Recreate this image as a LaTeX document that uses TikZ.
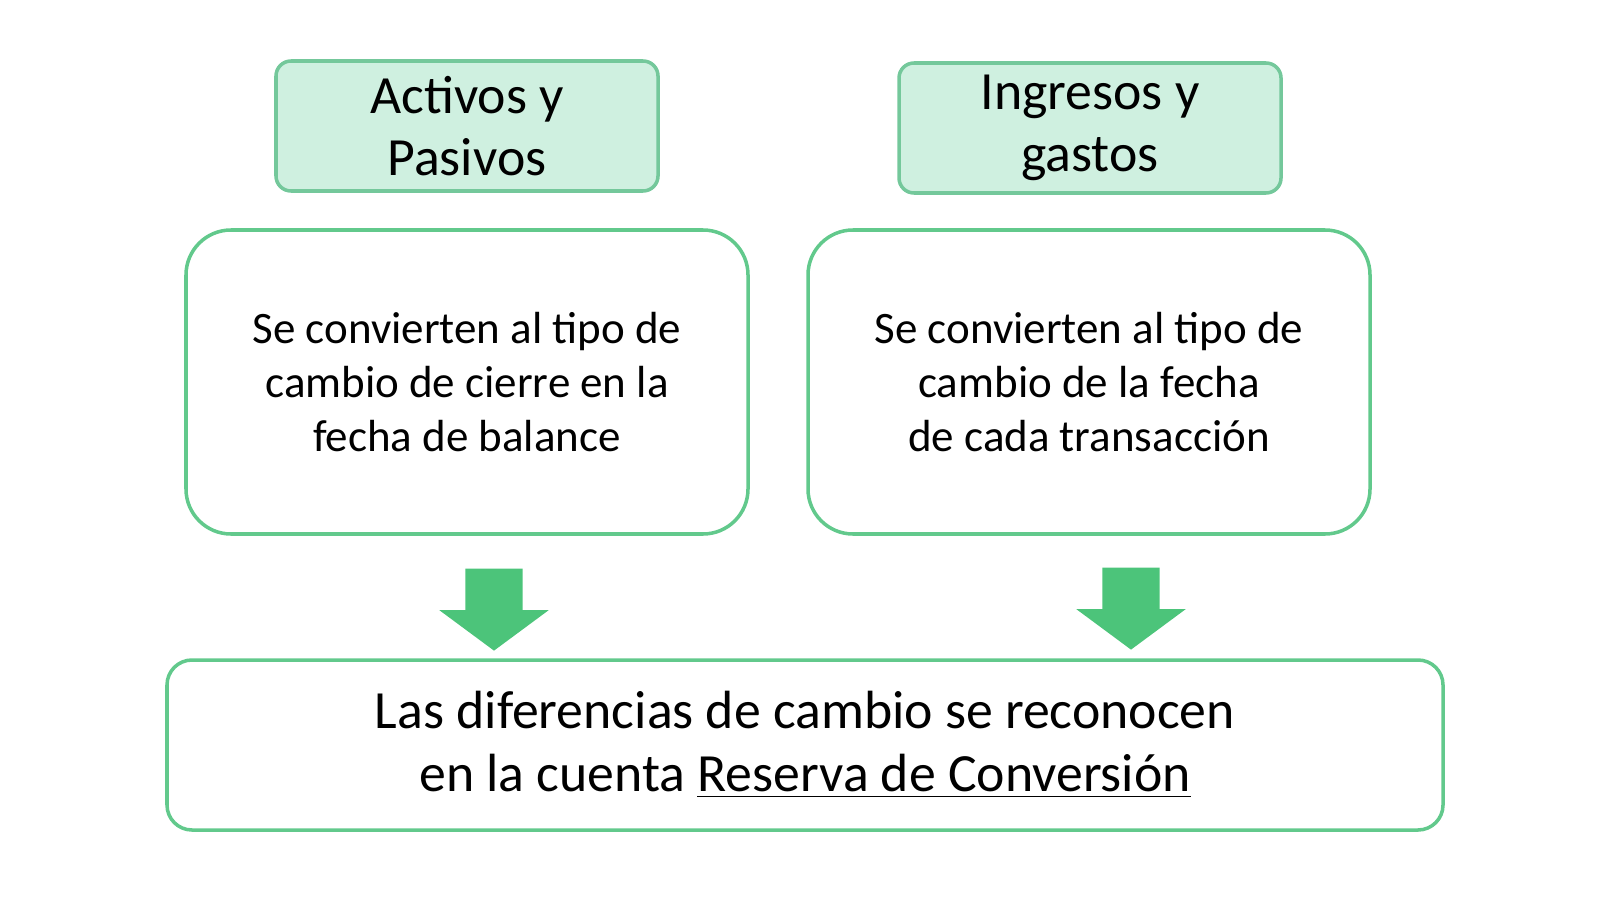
\documentclass[tikz,border=0pt]{standalone}
\usepackage{fontspec}
\setmainfont{Carlito}
\usepackage{tikz}
\usetikzlibrary{positioning,shapes.arrows}
\definecolor{headfill}{HTML}{CFF0E0}
\definecolor{headline}{HTML}{74C89B}
\definecolor{boxline}{HTML}{62C98C}
\definecolor{arrowfill}{HTML}{4CC47A}
\tikzstyle{head} = [rectangle, rounded corners=0.15cm, draw=headline, fill=headfill, line width=1pt, minimum width=3.82cm, minimum height=1.3cm, align=center, font=\fontsize{15.3}{17.7}\selectfont]
\tikzstyle{rule} = [rectangle, rounded corners=0.45cm, draw=boxline, line width=1pt, minimum width=5.62cm, minimum height=3.04cm, align=center, font=\fontsize{12.8}{15.3}\selectfont]
\tikzstyle{result} = [rectangle, rounded corners=0.25cm, draw=boxline, line width=1pt, minimum width=12.76cm, minimum height=1.7cm, align=center, font=\fontsize{15.3}{17.7}\selectfont]
\tikzstyle{down} = [single arrow, fill=arrowfill, draw=none, rotate=-90, inner xsep=0pt, inner ysep=0.28cm, minimum height=0.82cm, single arrow head extend=0.26cm, single arrow tip angle=107]

\begin{document}
\begin{tikzpicture}
    \useasboundingbox (0,0) rectangle (16,9);
    \node[head] (AP) at (4.67,7.74) {Activos y\\Pasivos};
    \node[head] (IG) at (10.90,7.72) {Ingresos y\\gastos};
    \node[rule] (convAP) at (4.67,5.18) {Se convierten al tipo de\\cambio de cierre en la\\fecha de balance};
    \node[rule] (convIG) at (10.89,5.18) {Se convierten al tipo de\\cambio de la fecha\\de cada transacción};
    \node[result] (reserva) at (8.05,1.55) {Las diferencias de cambio se reconocen\\en la cuenta \underline{Reserva de Conversión}};
    \node[down] (downAP) at (4.94,3.01) {};
    \node[down] (downIG) at (11.31,3.02) {};
\end{tikzpicture}
\end{document}
